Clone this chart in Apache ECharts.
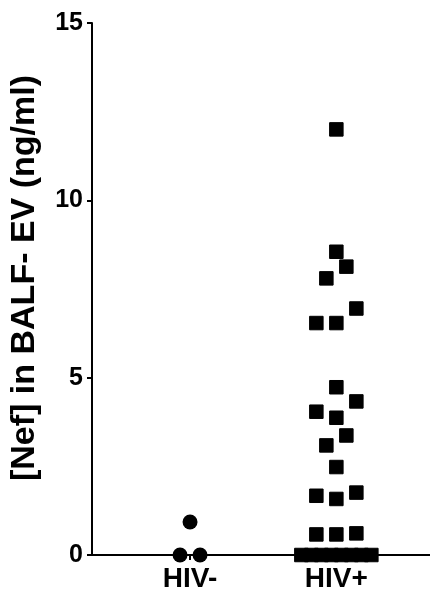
<!DOCTYPE html>
<html>
<head>
<meta charset="utf-8">
<style>
  html, body { margin: 0; padding: 0; background: #fff; }
  #chart { width: 430px; height: 598px; }
</style>
<script src="https://cdn.jsdelivr.net/npm/echarts@6/dist/echarts.min.js"></script>
</head>
<body>
<div id="chart"></div>
<script>
// ---- data ----
const categories = ['HIV-', 'HIV+'];
const hivNegValues = [0.93, 0, 0];
const hivPosValues = [12.0, 8.55, 8.13, 7.80, 6.95, 6.54, 6.54, 4.73, 4.33, 4.04, 3.87,
                      3.37, 3.09, 2.48, 1.76, 1.67, 1.58, 0.58, 0.61, 0.58,
                      0, 0, 0, 0, 0, 0, 0, 0];
const yTicks = [0, 5, 10, 15];
const yTitle = '[Nef] in BALF- EV (ng/ml)';

const FONT = '"Liberation Sans", Arial, Helvetica, sans-serif';
const chart = echarts.init(document.getElementById('chart'), null, { renderer: 'canvas' });

const baseOption = {
  backgroundColor: '#ffffff',
  animation: false,
  grid: { left: 92, right: 0, top: 23, bottom: 43, containLabel: false },
  xAxis: {
    type: 'value',
    min: 0.33,
    max: 2.64,
    axisLine: { show: true, onZero: true, lineStyle: { color: '#000', width: 2 } },
    axisTick: { show: true, customValues: [1, 2], length: 5, lineStyle: { color: '#000', width: 2 } },
    axisLabel: {
      customValues: [1, 2],
      formatter: v => categories[Math.round(v) - 1] || '',
      color: '#000', fontSize: 28, fontWeight: 'bold', fontFamily: FONT, margin: 10
    },
    splitLine: { show: false }
  },
  yAxis: {
    type: 'value',
    min: yTicks[0],
    max: yTicks[yTicks.length - 1],
    interval: 5,
    axisLine: { show: true, lineStyle: { color: '#000', width: 2 } },
    axisTick: { show: true, length: 5, lineStyle: { color: '#000', width: 2 } },
    axisLabel: { color: '#000', fontSize: 25, fontWeight: 'bold', fontFamily: FONT, margin: 9 },
    splitLine: { show: false },
    name: yTitle,
    nameLocation: 'middle',
    nameGap: 50,
    nameRotate: 90,
    nameTextStyle: { color: '#000', fontSize: 34, fontWeight: 'bold', fontFamily: FONT, padding: [0, 0, 0, 22] }
  },
  series: [
    { type: 'scatter', name: categories[0], symbol: 'circle', symbolSize: 15, clip: false, z: 10,
      itemStyle: { color: '#000', opacity: 1 }, emphasis: { disabled: true }, data: [] },
    { type: 'scatter', name: categories[1], symbol: 'rect', symbolSize: 13.5, clip: false, z: 10,
      itemStyle: { color: '#000', opacity: 1, borderColor: '#000', borderWidth: 1 },
      emphasis: { disabled: true }, data: [] }
  ]
};
chart.setOption(baseOption);

// column-scatter layout: group nearby values into rows, spread each row symmetrically
function columnScatter(values, centre) {
  const p1 = chart.convertToPixel({ gridIndex: 0 }, [1, 0]);
  const p2 = chart.convertToPixel({ gridIndex: 0 }, [2, 1]);
  const pxPerX = p2[0] - p1[0];
  const pxPerY = p1[1] - p2[1];
  const groupPx = 18, stepPx = 20, maxSpanPx = 70;
  const sorted = values.slice().sort((a, b) => a - b);
  const groups = [];
  let cur = null;
  sorted.forEach(v => {
    if (!cur || (v - cur.start) * pxPerY >= groupPx) { cur = { start: v, items: [] }; groups.push(cur); }
    cur.items.push(v);
  });
  const out = [];
  groups.forEach(g => {
    const n = g.items.length;
    const step = n > 1 ? Math.min(stepPx, maxSpanPx / (n - 1)) : 0;
    let offs = [];
    if (n % 2 === 1) {
      offs.push(0);
      for (let k = 1; offs.length < n; k++) { offs.push(-k); if (offs.length < n) offs.push(k); }
    } else {
      for (let k = 0.5; offs.length < n; k++) { offs.push(-k); offs.push(k); }
    }
    g.items.forEach((v, i) => out.push([centre + offs[i] * step / pxPerX, v]));
  });
  return out;
}

chart.setOption({
  series: [
    { data: columnScatter(hivNegValues, 1) },
    { data: columnScatter(hivPosValues, 2) }
  ]
});
</script>
</body>
</html>
